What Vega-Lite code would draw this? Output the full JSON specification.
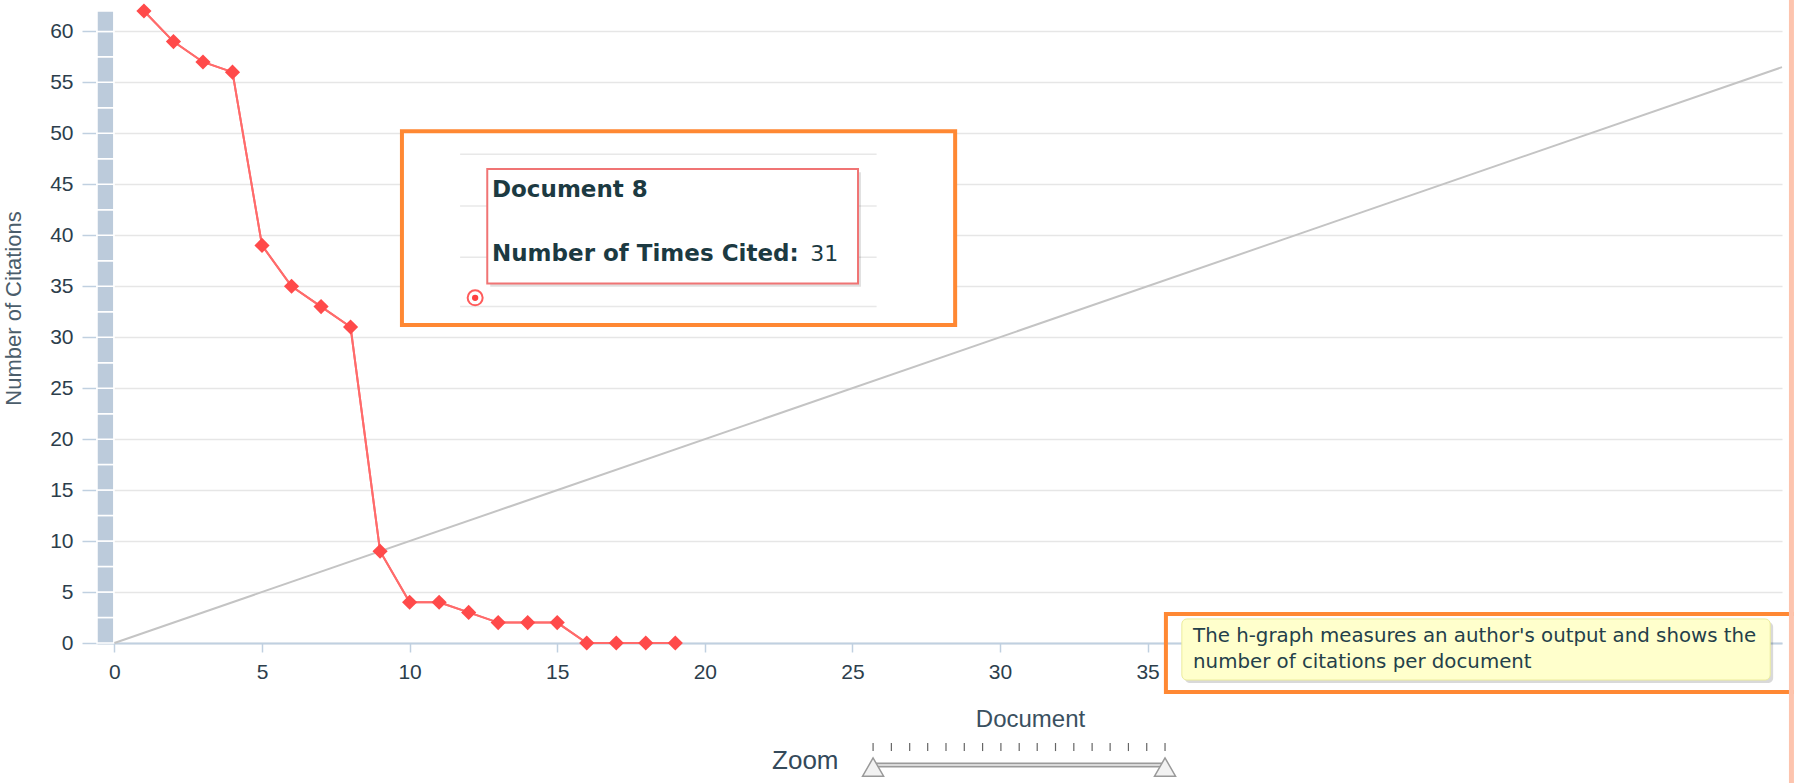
{
  "$schema": "https://vega.github.io/schema/vega-lite/v6.json",
  "width": 1685,
  "height": 632,
  "autosize": {"type": "none"},
  "padding": {"left": 97, "top": 11, "right": 12, "bottom": 140},
  "background": "white",
  "config": {
    "view": {"stroke": null},
    "font": "Liberation Sans",
    "axis": {"labelFont": "Liberation Sans", "titleFont": "Liberation Sans", "titleFontWeight": "normal"}
  },
  "datasets": {
    "docs": [
      {"Document": 1, "Citations": 62},
      {"Document": 2, "Citations": 59},
      {"Document": 3, "Citations": 57},
      {"Document": 4, "Citations": 56},
      {"Document": 5, "Citations": 39},
      {"Document": 6, "Citations": 35},
      {"Document": 7, "Citations": 33},
      {"Document": 8, "Citations": 31},
      {"Document": 9, "Citations": 9},
      {"Document": 10, "Citations": 4},
      {"Document": 11, "Citations": 4},
      {"Document": 12, "Citations": 3},
      {"Document": 13, "Citations": 2},
      {"Document": 14, "Citations": 2},
      {"Document": 15, "Citations": 2},
      {"Document": 16, "Citations": 0},
      {"Document": 17, "Citations": 0},
      {"Document": 18, "Citations": 0},
      {"Document": 19, "Citations": 0}
    ],
    "band": [
      {"lo": 0, "hi": 2.5}, {"lo": 2.5, "hi": 5}, {"lo": 5, "hi": 7.5}, {"lo": 7.5, "hi": 10},
      {"lo": 10, "hi": 12.5}, {"lo": 12.5, "hi": 15}, {"lo": 15, "hi": 17.5}, {"lo": 17.5, "hi": 20},
      {"lo": 20, "hi": 22.5}, {"lo": 22.5, "hi": 25}, {"lo": 25, "hi": 27.5}, {"lo": 27.5, "hi": 30},
      {"lo": 30, "hi": 32.5}, {"lo": 32.5, "hi": 35}, {"lo": 35, "hi": 37.5}, {"lo": 37.5, "hi": 40},
      {"lo": 40, "hi": 42.5}, {"lo": 42.5, "hi": 45}, {"lo": 45, "hi": 47.5}, {"lo": 47.5, "hi": 50},
      {"lo": 50, "hi": 52.5}, {"lo": 52.5, "hi": 55}, {"lo": 55, "hi": 57.5}, {"lo": 57.5, "hi": 60},
      {"lo": 60, "hi": 62}
    ],
    "innerGrid": [{"v": 47.94}, {"v": 42.88}, {"v": 37.84}, {"v": 33.01}],
    "sliderTicks": [
      {"pos": 25.70}, {"pos": 26.32}, {"pos": 26.94}, {"pos": 27.55}, {"pos": 28.17}, {"pos": 28.79},
      {"pos": 29.41}, {"pos": 30.03}, {"pos": 30.65}, {"pos": 31.26}, {"pos": 31.88}, {"pos": 32.50},
      {"pos": 33.12}, {"pos": 33.73}, {"pos": 34.35}, {"pos": 34.97}, {"pos": 35.59}
    ]
  },
  "layer": [
    {
      "data": {"name": "docs"},
      "mark": {"type": "line", "color": "#ff6b6b", "strokeWidth": 2},
      "encoding": {
        "x": {
          "field": "Document", "type": "quantitative", "title": "Document",
          "scale": {"domain": [-0.59, 56.49], "nice": false, "zero": false},
          "axis": {
            "values": [0, 5, 10, 15, 20, 25, 30, 35],
            "grid": false, "domainColor": "#c0d0e0", "domainWidth": 2,
            "tickColor": "#c0d0e0", "tickWidth": 1.5, "tickSize": 9,
            "labelFontSize": 21, "labelColor": "#2c3e4c", "labelPadding": 9,
            "titleFontSize": 24, "titleColor": "#3a5060", "titlePadding": 25, "titleX": 933
          }
        },
        "y": {
          "field": "Citations", "type": "quantitative", "title": "Number of Citations",
          "scale": {"domain": [0, 62], "nice": false, "zero": false},
          "axis": {
            "values": [0, 5, 10, 15, 20, 25, 30, 35, 40, 45, 50, 55, 60],
            "domain": false, "grid": true, "gridColor": "#e6e6e6", "gridWidth": 1.5,
            "tickColor": "#c0d0e0", "tickWidth": 1.5, "tickSize": 15,
            "labelFontSize": 21, "labelColor": "#2c3e4c", "labelPadding": 9,
            "titleFontSize": 22, "titleColor": "#4b5d6b", "titlePadding": 24, "titleY": 297
          }
        }
      }
    },
    {
      "data": {"name": "band"},
      "mark": {"type": "rect", "color": "#bccbdb", "stroke": "white", "strokeWidth": 1.5},
      "encoding": {
        "x": {"datum": -0.59},
        "x2": {"datum": -0.02},
        "y": {"field": "lo", "type": "quantitative", "title": "Number of Citations"},
        "y2": {"field": "hi"}
      }
    },
    {
      "data": {"values": [{}]},
      "mark": {"type": "rule", "color": "#c4c4c4", "strokeWidth": 2},
      "encoding": {"x": {"datum": 0}, "y": {"datum": 0}, "x2": {"datum": 56.49}, "y2": {"datum": 56.49}}
    },
    {
      "data": {"name": "docs"},
      "mark": {"type": "line", "color": "#ff6b6b", "strokeWidth": 2},
      "encoding": {
        "x": {"field": "Document", "type": "quantitative", "title": "Document"},
        "y": {"field": "Citations", "type": "quantitative", "title": "Number of Citations"}
      }
    },
    {
      "data": {"name": "docs"},
      "mark": {"type": "point", "shape": "diamond", "filled": true, "size": 230, "color": "#ff4a4a", "opacity": 1},
      "encoding": {
        "x": {"field": "Document", "type": "quantitative", "title": "Document"},
        "y": {"field": "Citations", "type": "quantitative", "title": "Number of Citations"}
      }
    },
    {
      "data": {"values": [{}]},
      "mark": {"type": "rect", "fill": "white", "stroke": "#ff8833", "strokeWidth": 4},
      "encoding": {"x": {"datum": 9.74}, "x2": {"datum": 28.48}, "y": {"datum": 50.2}, "y2": {"datum": 31.2}}
    },
    {
      "data": {"name": "innerGrid"},
      "mark": {"type": "rule", "color": "#e8e8e8", "strokeWidth": 1.5},
      "encoding": {
        "x": {"datum": 11.71}, "x2": {"datum": 25.82},
        "y": {"field": "v", "type": "quantitative", "title": "Number of Citations"}
      }
    },
    {
      "data": {"values": [{}]},
      "mark": {"type": "rect", "fill": "#000000", "opacity": 0.12},
      "encoding": {"x": {"datum": 12.73}, "x2": {"datum": 25.29}, "y": {"datum": 46.19}, "y2": {"datum": 34.96}}
    },
    {
      "data": {"values": [{}]},
      "mark": {"type": "rect", "fill": "white", "stroke": "#f07474", "strokeWidth": 2},
      "encoding": {"x": {"datum": 12.63}, "x2": {"datum": 25.19}, "y": {"datum": 46.49}, "y2": {"datum": 35.26}}
    },
    {
      "data": {"values": [{}]},
      "mark": {"type": "text", "text": "Document 8", "font": "DejaVu Sans", "fontWeight": "bold", "fontSize": 23, "color": "#1c3a42", "align": "left", "baseline": "middle"},
      "encoding": {"x": {"datum": 12.79}, "y": {"datum": 44.46}}
    },
    {
      "data": {"values": [{}]},
      "mark": {"type": "text", "text": "Number of Times Cited:", "font": "DejaVu Sans", "fontWeight": "bold", "fontSize": 23, "color": "#1c3a42", "align": "left", "baseline": "middle"},
      "encoding": {"x": {"datum": 12.79}, "y": {"datum": 38.17}}
    },
    {
      "data": {"values": [{}]},
      "mark": {"type": "text", "text": "31", "font": "DejaVu Sans", "fontSize": 22, "color": "#1c3a42", "align": "left", "baseline": "middle"},
      "encoding": {"x": {"datum": 23.57}, "y": {"datum": 38.17}}
    },
    {
      "data": {"values": [{}]},
      "mark": {"type": "point", "shape": "circle", "size": 225, "filled": false, "stroke": "#ff5c5c", "strokeWidth": 2, "opacity": 1},
      "encoding": {"x": {"datum": 12.22}, "y": {"datum": 33.86}}
    },
    {
      "data": {"values": [{}]},
      "mark": {"type": "point", "shape": "circle", "size": 40, "filled": true, "color": "#ff4040", "opacity": 1},
      "encoding": {"x": {"datum": 12.22}, "y": {"datum": 33.86}}
    },
    {
      "data": {"values": [{}]},
      "mark": {"type": "rect", "fill": "#000000", "opacity": 0.15, "cornerRadius": 5},
      "encoding": {"x": {"datum": 36.26}, "x2": {"datum": 56.19}, "y": {"datum": 2.06}, "y2": {"datum": -3.93}}
    },
    {
      "data": {"values": [{}]},
      "mark": {"type": "rect", "fill": "#ffffcc", "stroke": "#ecec9c", "strokeWidth": 1, "cornerRadius": 5},
      "encoding": {"x": {"datum": 36.16}, "x2": {"datum": 56.09}, "y": {"datum": 2.36}, "y2": {"datum": -3.63}}
    },
    {
      "data": {"values": [{}]},
      "mark": {"type": "text", "text": "The h-graph measures an author's output and shows the", "font": "DejaVu Sans", "fontSize": 19.8, "color": "#24404a", "align": "left", "baseline": "middle"},
      "encoding": {"x": {"datum": 36.54}, "y": {"datum": 0.69}}
    },
    {
      "data": {"values": [{}]},
      "mark": {"type": "text", "text": "number of citations per document", "font": "DejaVu Sans", "fontSize": 19.8, "color": "#24404a", "align": "left", "baseline": "middle"},
      "encoding": {"x": {"datum": 36.54}, "y": {"datum": -1.86}}
    },
    {
      "data": {"values": [{}]},
      "mark": {"type": "rect", "fill": null, "fillOpacity": 0, "stroke": "#ff8833", "strokeWidth": 4},
      "encoding": {"x": {"datum": 35.62}, "x2": {"datum": 57.4}, "y": {"datum": 2.85}, "y2": {"datum": -4.81}}
    },
    {
      "data": {"values": [{}]},
      "mark": {"type": "text", "text": "Zoom", "fontSize": 26, "color": "#34495a", "align": "right", "baseline": "middle"},
      "encoding": {"x": {"datum": 24.53}, "y": {"datum": -11.58}}
    },
    {
      "data": {"name": "sliderTicks"},
      "mark": {"type": "rule", "color": "#666666", "strokeWidth": 1.2},
      "encoding": {
        "x": {"field": "pos", "type": "quantitative", "title": "Document"},
        "y": {"datum": -9.81}, "y2": {"datum": -10.6}
      }
    },
    {
      "data": {"values": [{}]},
      "mark": {"type": "rule", "color": "#9a9a9a", "strokeWidth": 5},
      "encoding": {"x": {"datum": 25.7}, "x2": {"datum": 35.59}, "y": {"datum": -11.97}}
    },
    {
      "data": {"values": [{}]},
      "mark": {"type": "rule", "color": "#eeeeee", "strokeWidth": 1.5},
      "encoding": {"x": {"datum": 25.7}, "x2": {"datum": 35.59}, "y": {"datum": -11.97}}
    },
    {
      "data": {"values": [{}]},
      "mark": {"type": "point", "shape": "triangle-up", "size": 441, "filled": true, "fill": "#f2f2f2", "stroke": "#999999", "strokeWidth": 1.5, "opacity": 1},
      "encoding": {"x": {"datum": 25.7}, "y": {"datum": -12.17}}
    },
    {
      "data": {"values": [{}]},
      "mark": {"type": "point", "shape": "triangle-up", "size": 441, "filled": true, "fill": "#f2f2f2", "stroke": "#999999", "strokeWidth": 1.5, "opacity": 1},
      "encoding": {"x": {"datum": 35.59}, "y": {"datum": -12.17}}
    },
    {
      "data": {"values": [{}]},
      "mark": {"type": "rule", "color": "#fdc4ae", "strokeWidth": 5},
      "encoding": {"x": {"datum": 56.81}, "y": {"datum": 63.1}, "y2": {"datum": -13.74}}
    }
  ]
}
